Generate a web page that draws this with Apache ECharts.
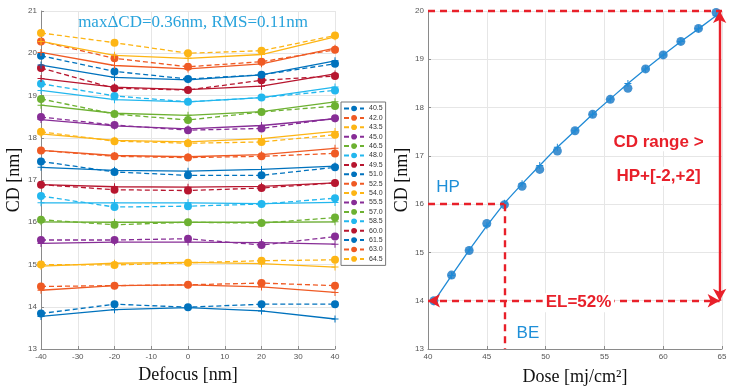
<!DOCTYPE html>
<html>
<head>
<meta charset="utf-8">
<script src="https://cdn.jsdelivr.net/npm/echarts@6/dist/echarts.min.js"></script>
<style>
  html, body { margin: 0; padding: 0; background: #fff; }
  #chart { width: 737px; height: 390px; }
</style>
</head>
<body>
<div id="chart"></div>
<script>
// left panel: CD vs defocus, one pair of curves per dose
const defocus = [-40, -20, 0, 20, 40];
const doseNames = ["40.5", "42.0", "43.5", "45.0", "46.5", "48.0", "49.5", "51.0", "52.5",
  "54.0", "55.5", "57.0", "58.5", "60.0", "61.5", "63.0", "64.5"];
// measured CD (dashed + dots)
const measuredCD = [
  [13.84, 14.06, 13.99, 14.06, 14.06],
  [14.48, 14.50, 14.52, 14.56, 14.50],
  [15.00, 14.99, 15.04, 15.09, 15.11],
  [15.58, 15.58, 15.61, 15.46, 15.66],
  [16.06, 15.94, 16.00, 15.98, 16.11],
  [16.62, 16.36, 16.38, 16.43, 16.57],
  [16.89, 16.77, 16.75, 16.81, 16.93],
  [17.44, 17.19, 17.11, 17.11, 17.30],
  [17.70, 17.56, 17.53, 17.56, 17.63],
  [18.14, 17.92, 17.87, 17.90, 18.07],
  [18.49, 18.30, 18.18, 18.22, 18.46],
  [18.92, 18.56, 18.42, 18.61, 18.75],
  [19.28, 18.99, 18.85, 18.95, 19.12],
  [19.65, 19.17, 19.13, 19.36, 19.46],
  [19.94, 19.57, 19.39, 19.49, 19.75],
  [20.28, 19.88, 19.68, 19.80, 20.08],
  [20.48, 20.25, 20.00, 20.06, 20.42],
];
// model CD (solid + crosses)
const modelCD = [
  [13.77, 13.93, 13.98, 13.90, 13.71],
  [14.39, 14.50, 14.52, 14.47, 14.34],
  [14.96, 15.03, 15.05, 15.02, 14.94],
  [15.50, 15.53, 15.53, 15.52, 15.48],
  [16.01, 16.00, 16.00, 16.00, 16.01],
  [16.46, 16.46, 16.46, 16.44, 16.47],
  [16.89, 16.84, 16.83, 16.85, 16.93],
  [17.30, 17.23, 17.21, 17.25, 17.33],
  [17.70, 17.58, 17.55, 17.60, 17.75],
  [18.09, 17.94, 17.90, 17.98, 18.15],
  [18.43, 18.28, 18.21, 18.29, 18.45],
  [18.77, 18.58, 18.53, 18.62, 18.85],
  [19.12, 18.90, 18.85, 18.95, 19.20],
  [19.40, 19.20, 19.14, 19.22, 19.51],
  [19.72, 19.43, 19.37, 19.49, 19.82],
  [20.02, 19.71, 19.63, 19.75, 20.12],
  [20.28, 19.95, 19.88, 19.97, 20.39],
];

// right panel: CD vs dose at best focus
const dose = [40.5, 42.0, 43.5, 45.0, 46.5, 48.0, 49.5, 51.0, 52.5, 54.0, 55.5, 57.0, 58.5, 60.0, 61.5, 63.0, 64.5];
const doseCD = [14.00, 14.53, 15.04, 15.60, 15.99, 16.37, 16.72, 17.10, 17.52, 17.86, 18.17, 18.40, 18.80, 19.09, 19.37, 19.64, 19.97];
const doseFit = [13.98, 14.52, 15.05, 15.55, 16.02, 16.42, 16.80, 17.18, 17.52, 17.86, 18.18, 18.50, 18.80, 19.09, 19.37, 19.63, 19.90];

const palette = ["#0072BD", "#EF5A24", "#FDB515", "#872D96", "#6DB132", "#22B7EE", "#B7162F"];
const red = "#E8202A";
const plus = "path://M3 0H4V3H7V4H4V7H3V4H0V3H3Z";

const tickLabel = { color: "#555", fontSize: 8, fontFamily: "Liberation Sans", margin: 4 };
const axisName = { color: "#111", fontSize: 18, fontFamily: "Liberation Serif" };
const gridLine = { show: true, lineStyle: { color: "#e6e6e6", width: 1 } };
const axisLine = { show: true, onZero: false, lineStyle: { color: "#8a8a8a", width: 1 } };
const axisTick = { show: true, inside: true, length: 3, lineStyle: { color: "#8a8a8a" } };

const leftSeries = [];
doseNames.forEach((name, i) => {
  const color = palette[i % palette.length];
  leftSeries.push({
    name: name + " fit", type: "line", xAxisIndex: 0, yAxisIndex: 0,
    data: defocus.map((d, k) => [d, modelCD[i][k]]),
    symbol: plus, symbolSize: 7, showSymbol: true,
    lineStyle: { color, width: 1.3 }, itemStyle: { color },
  });
  leftSeries.push({
    name, type: "line", xAxisIndex: 0, yAxisIndex: 0,
    data: defocus.map((d, k) => [d, measuredCD[i][k]]),
    symbol: "circle", symbolSize: 8, showSymbol: true,
    lineStyle: { color, width: 1.3, type: [5, 3] }, itemStyle: { color },
  });
});

const noteLabel = (text, color, bold, bg) => ({
  show: true, position: "inside", formatter: text, color,
  fontSize: 17, fontWeight: bold ? "bold" : "normal", fontFamily: "Liberation Sans",
  backgroundColor: bg ? "#fff" : "transparent", padding: bg ? [1, 3] : 0,
});

const chart = echarts.init(document.getElementById("chart"), null, { renderer: "canvas" });
chart.setOption({
  animation: false,
  backgroundColor: "#fff",
  title: {
    text: "maxΔCD=0.36nm, RMS=0.11nm",
    left: 188, top: 9, textAlign: "center",
    textStyle: { color: "#29A3DC", fontSize: 17, fontWeight: "normal", fontFamily: "Liberation Serif" },
  },
  legend: {
    data: doseNames,
    orient: "vertical", left: 341, top: 102,
    itemWidth: 20, itemHeight: 7, itemGap: 2.4,
    padding: [3, 3, 3, 2],
    borderColor: "#777", borderWidth: 1, backgroundColor: "#fff",
    textStyle: { fontSize: 7, lineHeight: 7, color: "#333", fontFamily: "Liberation Sans" },
  },
  grid: [
    { left: 41, top: 11, width: 294, height: 338, outerBoundsMode: "none" },
    { left: 428, top: 11, width: 294, height: 338, outerBoundsMode: "none" },
  ],
  xAxis: [
    {
      gridIndex: 0, type: "value", min: -40, max: 40, interval: 10,
      name: "Defocus [nm]", nameLocation: "middle", nameGap: 17, nameTextStyle: axisName,
      axisLine, axisTick, axisLabel: tickLabel, splitLine: gridLine,
    },
    {
      gridIndex: 1, type: "value", min: 40, max: 65, interval: 5,
      name: "Dose [mj/cm²]", nameLocation: "middle", nameGap: 19, nameTextStyle: axisName,
      axisLine, axisTick, axisLabel: tickLabel, splitLine: gridLine,
    },
  ],
  yAxis: [
    {
      gridIndex: 0, type: "value", min: 13, max: 21, interval: 1,
      name: "CD [nm]", nameLocation: "middle", nameGap: 18, nameTextStyle: axisName,
      axisLine, axisTick, axisLabel: tickLabel, splitLine: gridLine,
    },
    {
      gridIndex: 1, type: "value", min: 13, max: 20, interval: 1,
      name: "CD [nm]", nameLocation: "middle", nameGap: 15, nameTextStyle: axisName,
      axisLine, axisTick, axisLabel: tickLabel, splitLine: gridLine,
    },
  ],
  series: [
    ...leftSeries,
    {
      name: "dose fit", type: "line", xAxisIndex: 1, yAxisIndex: 1,
      data: dose.map((d, k) => [d, doseFit[k]]),
      symbol: plus, symbolSize: 7,
      lineStyle: { color: "#1F8AD6", width: 1.3 }, itemStyle: { color: "#1F8AD6" },
      clip: false,
      markLine: {
        silent: true, animation: false, symbol: ["none", "none"],
        label: { show: false },
        lineStyle: { color: red, width: 2.4, type: [7, 5] },
        data: [
          [{ coord: [40, 20] }, { coord: [65, 20] }],
          [{ coord: [40, 16] }, { coord: [46.5, 16] }],
          [{ coord: [46.5, 16] }, { coord: [46.5, 13] }],
          [{ coord: [40, 14], symbol: "arrow", symbolSize: [10, 12] }, { coord: [64.8, 14], symbol: "arrow", symbolSize: [10, 12] }],
          [{ coord: [64.8, 20], symbol: "arrow", symbolSize: [10, 12], lineStyle: { type: "solid", width: 2.4, color: red } },
           { coord: [64.8, 14], symbol: "arrow", symbolSize: [10, 12] }],
        ],
      },
      markPoint: {
        silent: true, animation: false, symbol: "rect", symbolSize: 1,
        itemStyle: { color: "transparent" },
        data: [
          { coord: [52.8, 13.96], label: noteLabel("EL=52%", red, true, true) },
          { coord: [59.6, 17.29], label: noteLabel("CD range >", red, true, true) },
          { coord: [59.6, 16.58], label: noteLabel("HP+[-2,+2]", red, true, true) },
          { coord: [41.7, 16.34], label: noteLabel("HP", "#1E8FD8", false, false) },
          { coord: [48.5, 13.33], label: noteLabel("BE", "#1E8FD8", false, false) },
        ],
      },
    },
    {
      name: "dose measured", type: "scatter", xAxisIndex: 1, yAxisIndex: 1,
      data: dose.map((d, k) => [d, doseCD[k]]),
      symbol: "circle", symbolSize: 9,
      itemStyle: { color: "#1577C6" },
    },
  ],
});
</script>
</body>
</html>
